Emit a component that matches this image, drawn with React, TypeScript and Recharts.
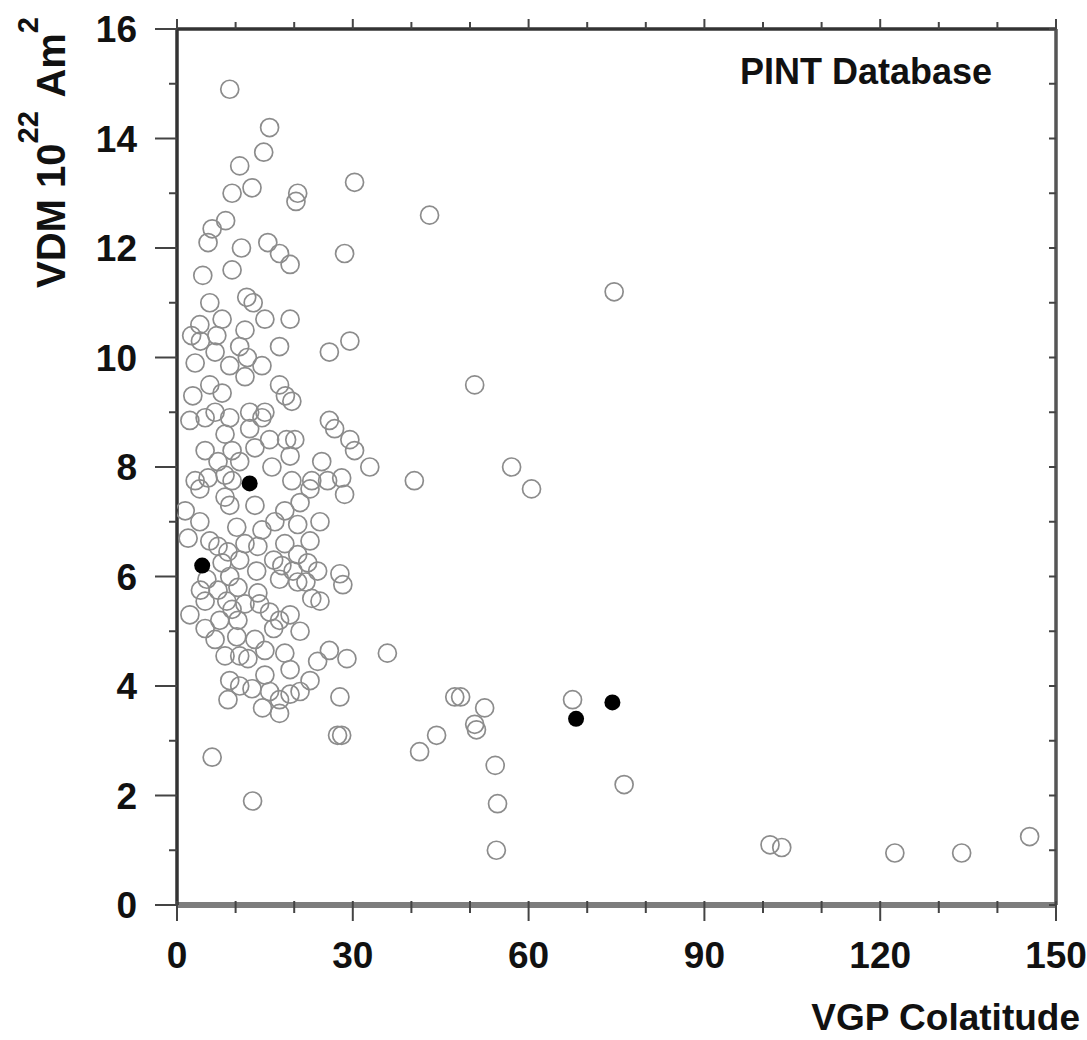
import { ScatterChart, Scatter, XAxis, YAxis, Label } from "recharts";

// VGP colatitude (deg) and VDM (10^22 Am^2), dense group near the pole
const clusterColat = [
  9.0, 15.8, 14.8, 10.7, 12.8, 9.4, 20.6, 20.3, 8.3, 6.0, 5.3, 15.5, 17.5, 28.6, 19.3, 9.4, 4.4,
  5.6, 11.9, 13.0, 19.3, 3.9, 7.7, 11.6, 6.8, 26.0, 29.5, 3.1, 6.5, 10.7, 14.5, 9.0, 5.6, 11.6,
  17.5, 18.5, 7.7, 2.7, 19.6, 15.0, 26.0, 26.9, 2.2, 4.8, 9.0, 14.5, 8.2, 12.4, 20.1, 29.5, 18.7,
  4.8, 9.4, 13.3, 19.3, 30.3, 24.7, 32.9, 5.3, 9.4, 16.2, 19.6, 23.0, 25.7, 28.1, 28.6, 3.9, 8.2,
  22.7, 1.4, 9.0, 13.3, 16.7, 20.6, 10.2, 14.5, 1.9, 5.6, 7.0, 11.6, 13.8, 18.4, 22.7, 8.7, 20.6,
  7.7, 13.6, 17.9, 22.3, 19.8, 24.0, 27.8, 28.3, 9.0, 5.1, 10.4, 20.6, 17.5, 7.0, 13.8, 4.8, 8.5,
  14.1, 11.6, 9.4, 2.2, 15.8, 19.3, 7.3, 10.4, 4.8, 16.5, 13.3, 6.5, 10.2, 8.2, 10.7, 15.0, 18.4,
  29.0, 35.9, 24.0, 12.1, 22.7, 10.7, 15.8, 12.8, 21.0, 19.3, 17.5, 27.8, 8.7, 14.6, 17.5, 23.0,
  15.0, 17.5, 4.0, 12.4, 8.2, 15.8, 10.7, 3.1, 21.0, 24.4, 18.4, 3.9, 17.5, 21.0, 19.3, 15.0,
  9.0, 4.0, 24.4, 26.0, 10.7, 22.0, 6.5, 12.0, 7.0, 16.5, 2.5, 11.0,
];
const clusterVdm = [
  14.9, 14.2, 13.75, 13.5, 13.1, 13.0, 13.0, 12.85, 12.5, 12.35, 12.1, 12.1, 11.9, 11.9, 11.7, 11.6, 11.5,
  11.0, 11.1, 11.0, 10.7, 10.6, 10.7, 10.5, 10.4, 10.1, 10.3, 9.9, 10.1, 10.2, 9.85, 9.85, 9.5, 9.65,
  9.5, 9.3, 9.35, 9.3, 9.2, 9.0, 8.85, 8.7, 8.85, 8.9, 8.9, 8.9, 8.6, 8.7, 8.5, 8.5, 8.5,
  8.3, 8.3, 8.35, 8.2, 8.3, 8.1, 8.0, 7.8, 7.75, 8.0, 7.75, 7.75, 7.75, 7.8, 7.5, 7.6, 7.45,
  7.6, 7.2, 7.3, 7.3, 7.0, 6.95, 6.9, 6.85, 6.7, 6.65, 6.55, 6.6, 6.55, 6.6, 6.65, 6.45, 6.4,
  6.25, 6.1, 6.2, 6.25, 6.1, 6.1, 6.05, 5.85, 6.0, 5.95, 5.8, 5.9, 5.95, 5.75, 5.7, 5.55, 5.55,
  5.5, 5.5, 5.4, 5.3, 5.35, 5.3, 5.2, 5.2, 5.05, 5.05, 4.85, 4.85, 4.9, 4.55, 4.55, 4.65, 4.6,
  4.5, 4.6, 4.45, 4.5, 4.1, 4.0, 3.9, 3.95, 3.9, 3.85, 3.75, 3.8, 3.75, 3.6, 3.5, 5.6,
  10.7, 10.2, 10.3, 9.0, 7.85, 8.5, 8.1, 7.75, 7.35, 7.0, 7.2, 7.0, 5.2, 5.0, 4.3, 4.2,
  4.1, 5.75, 5.55, 4.65, 6.3, 5.9, 9.0, 10.0, 8.1, 6.3, 10.4, 12.0,
];

// scattered sites away from the main group
const outlierColat = [
  30.3, 43.1, 74.6, 50.8, 57.1, 60.5, 40.5, 47.4, 48.4, 67.5, 52.5, 50.8, 51.1, 27.4, 28.1,
  44.3, 41.4, 6.0, 54.3, 76.3, 54.7, 12.9, 54.5, 101.2, 103.2, 122.5, 133.9, 145.5,
];
const outlierVdm = [
  13.2, 12.6, 11.2, 9.5, 8.0, 7.6, 7.75, 3.8, 3.8, 3.75, 3.6, 3.3, 3.2, 3.1, 3.1,
  3.1, 2.8, 2.7, 2.55, 2.2, 1.85, 1.9, 1.0, 1.1, 1.05, 0.95, 0.95, 1.25,
];

// filled markers
const markedColat = [4.3, 12.4, 68.1, 74.3];
const markedVdm = [6.2, 7.7, 3.4, 3.7];

const xTicks = [0, 10, 20, 30, 40, 50, 60, 70, 80, 90, 100, 110, 120, 130, 140, 150];
const xLabels = [0, 30, 60, 90, 120, 150];
const yTicks = [0, 1, 2, 3, 4, 5, 6, 7, 8, 9, 10, 11, 12, 13, 14, 15, 16];
const yLabels = [0, 2, 4, 6, 8, 10, 12, 14, 16];

const font = "'Liberation Sans', Arial, sans-serif";

const openData = [
  ...clusterColat.map((c, i) => ({ colat: c, vdm: clusterVdm[i] })),
  ...outlierColat.map((c, i) => ({ colat: c, vdm: outlierVdm[i] })),
];
const markedData = markedColat.map((c, i) => ({ colat: c, vdm: markedVdm[i] }));

const OpenCircle = (p: any) => (
  <circle cx={p.cx} cy={p.cy} r={9} fill="none" stroke="#8c8c8c" strokeWidth={1.7} />
);
const FilledCircle = (p: any) => <circle cx={p.cx} cy={p.cy} r={8} fill="#000" />;

const BottomTick = (props: any) => {
  const { x, y, payload } = props;
  const major = xLabels.includes(payload.value);
  return (
    <g>
      <line x1={x} x2={x} y1={y - 4} y2={y + (major ? 16 : 8)} stroke="#444" strokeWidth={2} />
      {major && (
        <text x={x} y={y + 63} textAnchor="middle" fontFamily={font} fontWeight="bold" fontSize={37} fill="#111">
          {payload.value}
        </text>
      )}
    </g>
  );
};

const LeftTick = (props: any) => {
  const { x, y, payload } = props;
  const major = yLabels.includes(payload.value);
  return (
    <g>
      <line x1={x - (major ? 22 : 8)} x2={x} y1={y} y2={y} stroke="#444" strokeWidth={2} />
      {major && (
        <text x={x - 40} y={y + 13} textAnchor="end" fontFamily={font} fontWeight="bold" fontSize={37} fill="#111">
          {payload.value}
        </text>
      )}
    </g>
  );
};

const TopTick = (props: any) => {
  const { x, y, payload } = props;
  const major = xLabels.includes(payload.value);
  return <line x1={x} x2={x} y1={y - (major ? 10 : 7)} y2={y} stroke="#444" strokeWidth={2} />;
};

const RightTick = (props: any) => {
  const { x, y } = props;
  return <line x1={x - 7} x2={x} y1={y} y2={y} stroke="#444" strokeWidth={2} />;
};

const YTitle = () => (
  <text transform="rotate(-90)" x={-288} y={65} fontFamily={font} fontWeight="bold" fontSize={40} fill="#111">
    <tspan>VDM 10</tspan>
    <tspan dy={-27} fontSize={29}>22</tspan>
    <tspan dy={27} dx={4}> Am</tspan>
    <tspan dy={-27} fontSize={29}>2</tspan>
  </text>
);

const XTitle = () => (
  <text x={1080} y={1030} textAnchor="end" fontFamily={font} fontWeight="bold" fontSize={37} fill="#111">
    VGP Colatitude
  </text>
);

const PlotTitle = () => (
  <text x={740} y={84} fontFamily={font} fontWeight="bold" fontSize={36} fill="#111">
    PINT Database
  </text>
);

export default function App() {
  return (
    <div style={{ position: "absolute", left: 0, top: 0, background: "#fff" }}>
      <ScatterChart width={1087} height={1040} margin={{ top: 19, right: 21, bottom: 35, left: 77 }}>
        <XAxis
          xAxisId="bottom"
          dataKey="colat"
          type="number"
          domain={[0, 150]}
          ticks={xTicks}
          interval={0}
          height={100}
          tickSize={0}
          tickMargin={0}
          tickLine={false}
          tick={<BottomTick />}
          axisLine={{ stroke: "#7d7d7d", strokeWidth: 6 }}
          allowDataOverflow
        >
          <Label content={<XTitle />} />
        </XAxis>
        <XAxis
          xAxisId="top"
          orientation="top"
          dataKey="colat"
          type="number"
          domain={[0, 150]}
          ticks={xTicks}
          interval={0}
          height={10}
          tickSize={0}
          tickMargin={0}
          tickLine={false}
          tick={<TopTick />}
          axisLine={{ stroke: "#333", strokeWidth: 3.5 }}
          allowDataOverflow
        >
          <Label content={<PlotTitle />} />
        </XAxis>
        <YAxis
          yAxisId="left"
          dataKey="vdm"
          type="number"
          domain={[0, 16]}
          ticks={yTicks}
          interval={0}
          width={100}
          tickSize={0}
          tickMargin={0}
          tickLine={false}
          tick={<LeftTick />}
          axisLine={{ stroke: "#333", strokeWidth: 3.5 }}
          allowDataOverflow
        >
          <Label content={<YTitle />} />
        </YAxis>
        <YAxis
          yAxisId="right"
          orientation="right"
          dataKey="vdm"
          type="number"
          domain={[0, 16]}
          ticks={yTicks}
          interval={0}
          width={10}
          tickSize={0}
          tickMargin={0}
          tickLine={false}
          tick={<RightTick />}
          axisLine={{ stroke: "#555", strokeWidth: 3.5 }}
          allowDataOverflow
        />
        <Scatter
          data={openData}
          xAxisId="bottom"
          yAxisId="left"
          shape={<OpenCircle />}
          isAnimationActive={false}
        />
        <Scatter
          data={markedData}
          xAxisId="bottom"
          yAxisId="left"
          shape={<FilledCircle />}
          isAnimationActive={false}
        />
      </ScatterChart>
    </div>
  );
}
